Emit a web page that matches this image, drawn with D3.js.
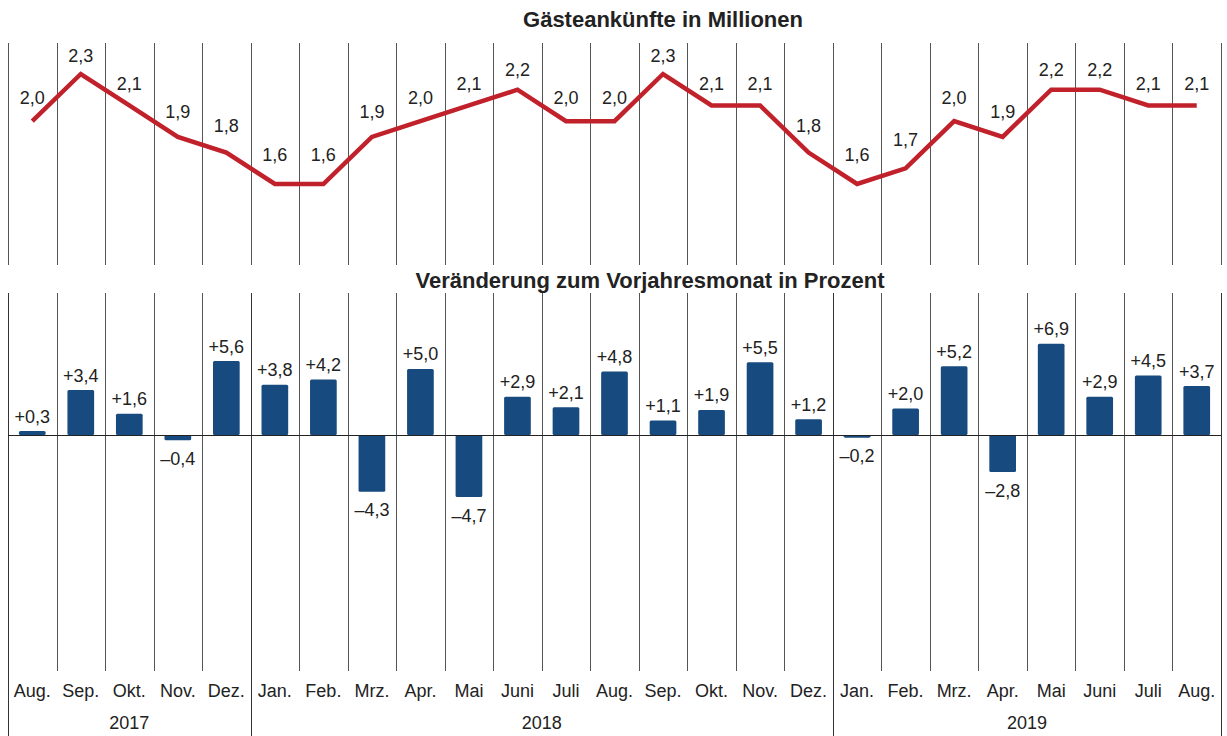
<!DOCTYPE html>
<html>
<head>
<meta charset="utf-8">
<script src="https://cdn.jsdelivr.net/npm/d3@7"></script>
<style>
  body { margin: 0; background: #fff; }
  svg { font-family: "Liberation Sans", Arial, sans-serif; }
</style>
</head>
<body>
<div id="container"></div>
<script>
const monthLabels = ['Aug.','Sep.','Okt.','Nov.','Dez.','Jan.','Feb.','Mrz.','Apr.','Mai','Juni','Juli',
  'Aug.','Sep.','Okt.','Nov.','Dez.','Jan.','Feb.','Mrz.','Apr.','Mai','Juni','Juli','Aug.'];
const arrivals = [2.0,2.3,2.1,1.9,1.8,1.6,1.6,1.9,2.0,2.1,2.2,2.0,2.0,2.3,2.1,2.1,1.8,1.6,1.7,2.0,1.9,2.2,2.2,2.1,2.1];
const change = [0.3,3.4,1.6,-0.4,5.6,3.8,4.2,-4.3,5.0,-4.7,2.9,2.1,4.8,1.1,1.9,5.5,1.2,-0.2,2.0,5.2,-2.8,6.9,2.9,4.5,3.7];
const yearNames = ['2017','2018','2019'];
const yearMonthCounts = [5,12,8];

const w = 1227;
const h = 736;
const left = 8;
const right = 1221;
const gridTop = 43;
const gridTopEnd = 265;
const gridMidStart = 293;
const gridBottom = 671;
const zeroY = 435;
const fs = 18;

const locale = d3.formatLocale({decimal:',', thousands:'.', grouping:[3], currency:['','€'], minus:'–'});
const fmtLine = locale.format('.1f');
const fmtBar = locale.format('+.1f');

const svg = d3.select('#container')
  .append('svg')
  .attr('width',w)
  .attr('height',h);

const idx = d3.range(monthLabels.length);
const xScale = d3.scaleBand()
  .domain(idx)
  .range([left,right])
  .padding(0);
const bw = xScale.bandwidth();
const cx = i => xScale(i) + bw / 2;

const yLine = d3.scaleLinear()
  .domain([1.6,2.3])
  .range([184,74]);
const yBar = d3.scaleLinear()
  .domain([0,5.6])
  .range([zeroY,zeroY - 74]);

// month grid lines
const bounds = idx.map(i => xScale(i)).concat([right]);
const yearStarts = [0];
yearMonthCounts.forEach((c,i) => yearStarts.push(yearStarts[i] + c));
const isYearBound = x => yearStarts.some(s => Math.abs((s < idx.length ? xScale(s) : right) - x) < 0.5);

const grid = svg.append('g').attr('stroke','#555').attr('stroke-width',1);
bounds.forEach(x => {
  const xx = Math.round(x) + 0.5;
  grid.append('line').attr('x1',xx).attr('x2',xx).attr('y1',gridTop).attr('y2',gridTopEnd);
  grid.append('line').attr('x1',xx).attr('x2',xx).attr('y1',gridMidStart)
    .attr('y2',isYearBound(x) ? h : gridBottom)
    .attr('stroke',isYearBound(x) ? '#333' : '#555');
});

// titles
svg.append('text')
  .attr('x',663).attr('y',27)
  .attr('text-anchor','middle')
  .style('font-size','22px').style('font-weight','bold').attr('fill','#222')
  .text('Gästeankünfte in Millionen');
svg.append('text')
  .attr('x',650).attr('y',288)
  .attr('text-anchor','middle')
  .style('font-size','22px').style('font-weight','bold').attr('fill','#222')
  .text('Veränderung zum Vorjahresmonat in Prozent');

// line
const line = d3.line().x((d,i) => cx(i)).y(d => yLine(d));
svg.append('path')
  .datum(arrivals)
  .attr('d',line)
  .attr('fill','none')
  .attr('stroke','#c1212b')
  .attr('stroke-width',4.5)
  .attr('stroke-linejoin','miter');

svg.append('g').selectAll('text')
  .data(arrivals)
  .enter()
  .append('text')
  .attr('x',(d,i) => cx(i))
  .attr('y',d => {
    const y = yLine(d);
    return y - 19 - 0.1 * (y - yLine(2.3)) + 6.5;
  })
  .attr('text-anchor','middle')
  .style('font-size',fs + 'px').attr('fill','#222')
  .text(d => fmtLine(d));

// bars
const barW = bw * 0.55;
svg.append('g').selectAll('rect')
  .data(change)
  .enter()
  .append('rect')
  .attr('x',(d,i) => cx(i) - barW / 2)
  .attr('y',d => Math.min(yBar(d),yBar(0)))
  .attr('width',barW)
  .attr('height',d => Math.abs(yBar(d) - yBar(0)))
  .attr('rx',1.5)
  .attr('fill','#174a7e');

svg.append('line')
  .attr('x1',left).attr('x2',right)
  .attr('y1',zeroY + 0.5).attr('y2',zeroY + 0.5)
  .attr('stroke','#222').attr('stroke-width',1);

svg.append('g').selectAll('text')
  .data(change)
  .enter()
  .append('text')
  .attr('x',(d,i) => cx(i))
  .attr('y',d => d >= 0 ? yBar(d) - 15 + 6.5 : yBar(d) + 18 + 6.5)
  .attr('text-anchor','middle')
  .style('font-size',fs + 'px').attr('fill','#222')
  .text(d => fmtBar(d));

// axis labels
svg.append('g').selectAll('text')
  .data(monthLabels)
  .enter()
  .append('text')
  .attr('x',(d,i) => cx(i))
  .attr('y',697)
  .attr('text-anchor','middle')
  .style('font-size',fs + 'px').attr('fill','#222')
  .text(d => d);

svg.append('g').selectAll('text')
  .data(yearNames)
  .enter()
  .append('text')
  .attr('x',(d,i) => {
    const x0 = xScale(yearStarts[i]);
    const x1 = yearStarts[i + 1] < idx.length ? xScale(yearStarts[i + 1]) : right;
    return (x0 + x1) / 2;
  })
  .attr('y',729)
  .attr('text-anchor','middle')
  .style('font-size',fs + 'px').attr('fill','#222')
  .text(d => d);
</script>
</body>
</html>
